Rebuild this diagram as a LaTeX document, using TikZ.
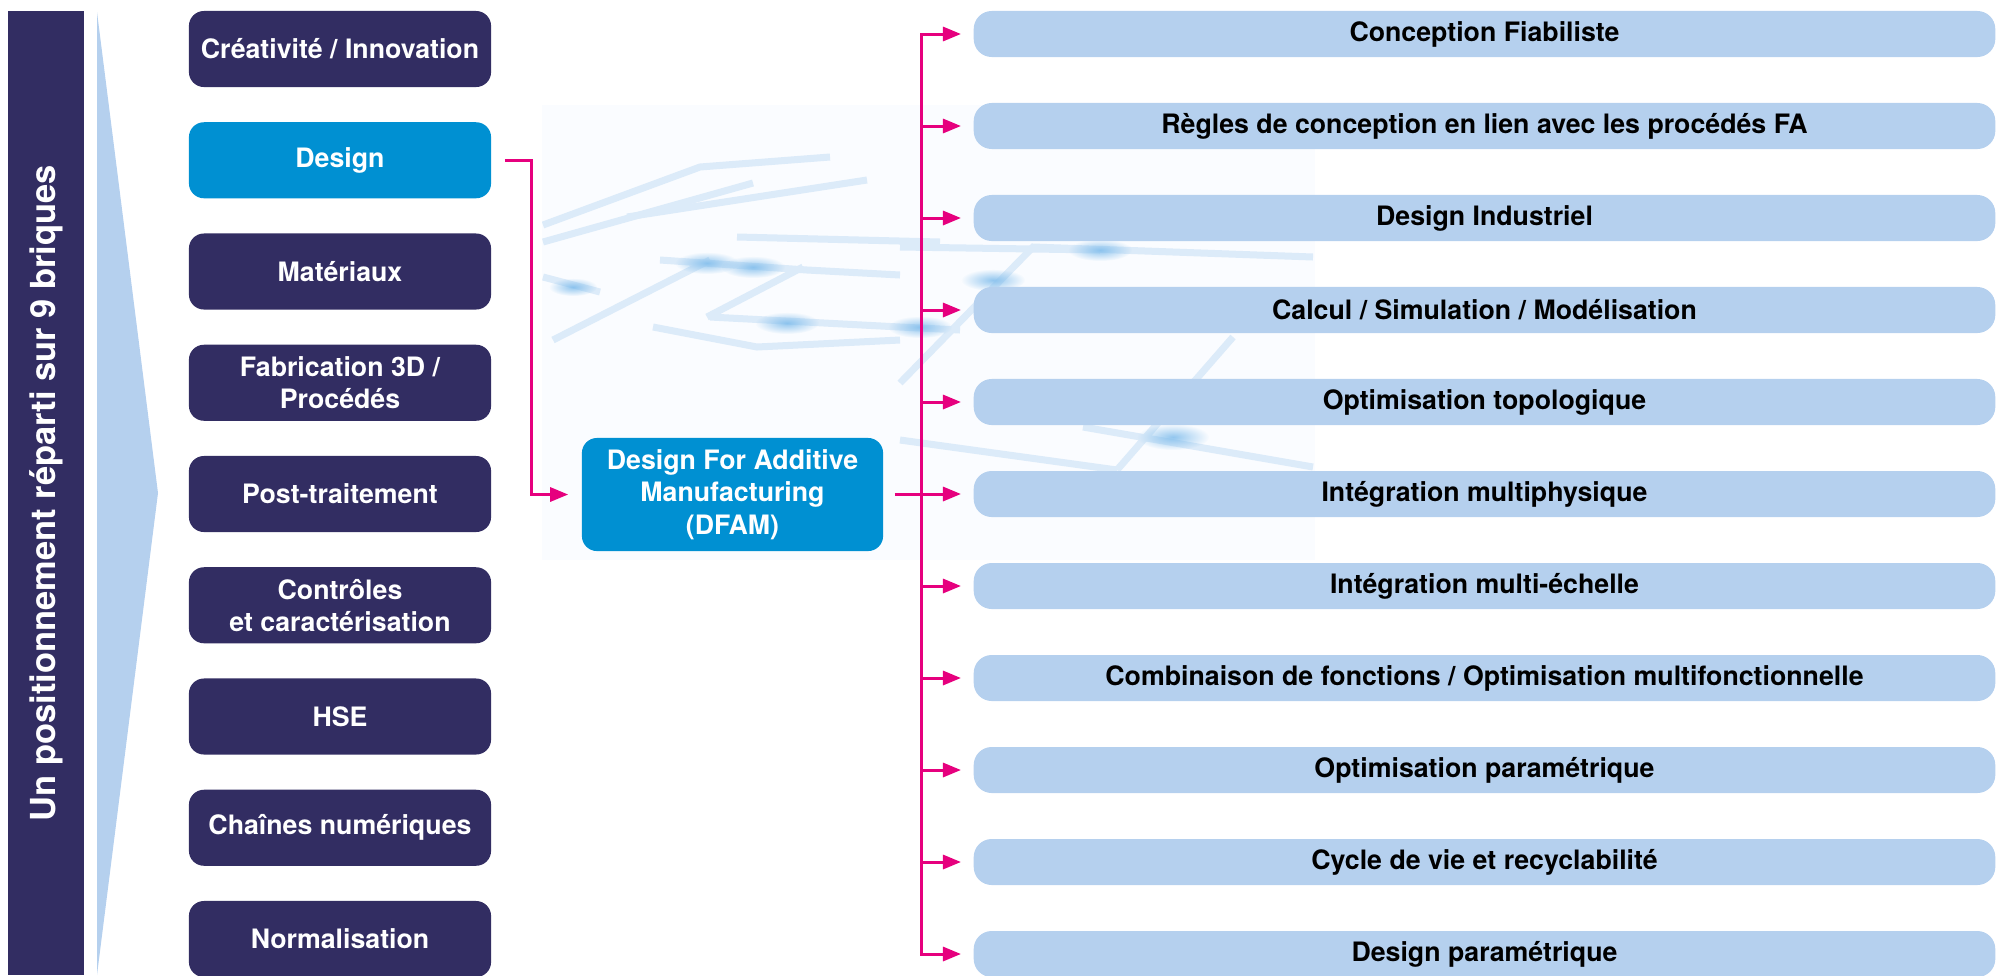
\documentclass[tikz,border=0pt]{standalone}
\usepackage{fontspec}
\setmainfont{TeX Gyre Heros}
\usepackage{tikz}
\usetikzlibrary{positioning,arrows.meta,fadings}
\definecolor{brickc}{RGB}{50,45,98}
\definecolor{dfamc}{RGB}{0,144,210}
\definecolor{topicc}{RGB}{181,208,238}
\definecolor{linkc}{RGB}{230,0,126}
\definecolor{washc}{RGB}{250,252,255}
\definecolor{gridc}{RGB}{220,235,249}
\definecolor{spotc}{RGB}{120,185,235}
\tikzfading[name=glow, inner color=transparent!0, outer color=transparent!100]
\tikzset{
  brick/.style={rectangle, rounded corners=0.15cm, fill=brickc, text=white,
                minimum width=3.02cm, minimum height=0.76cm, inner sep=0pt,
                align=center, font=\fontsize{7.6}{9.2}\selectfont\bfseries},
  brickon/.style={brick, fill=dfamc},
  dfambox/.style={brickon, minimum width=3.01cm, minimum height=1.13cm},
  topic/.style={rectangle, rounded corners=0.18cm, fill=topicc, text=black,
                minimum width=10.21cm, minimum height=0.46cm, inner sep=0pt,
                font=\fontsize{7.6}{9}\selectfont\bfseries},
  sidebar/.style={rectangle, fill=brickc, text=white, rotate=90,
                  minimum width=9.64cm, minimum height=0.76cm, inner sep=0pt,
                  font=\fontsize{9.8}{11}\selectfont\bfseries},
  link/.style={line width=0.03cm, linkc},
  feed/.style={link, -{Triangle[length=0.18cm, width=0.14cm]}},
  gridline/.style={gridc, line width=0.07cm},
  spot/.style={spotc, path fading=glow, fill opacity=0.8}
}

\begin{document}
\begin{tikzpicture}[x=0.01cm, y=-0.01cm]
\useasboundingbox (0,0) rectangle (1997,975);
% faint grid in the background
\begin{scope}
  \clip (542,105) rectangle (1315,560);
  \fill[washc] (542,105) rectangle (1315,560);
  \draw[gridline] (543,225) -- (700,167) -- (830,157);
  \draw[gridline] (627,217) -- (867,180);
  \draw[gridline] (543,242) -- (753,183);
  \draw[gridline] (737,237) -- (940,242);
  \draw[gridline] (660,260) -- (807,270) -- (900,275);
  \draw[gridline] (543,277) -- (600,292);
  \draw[gridline] (553,340) -- (710,260);
  \draw[gridline] (653,327) -- (757,347) -- (900,340);
  \draw[gridline] (710,317) -- (900,327) -- (960,330);
  \draw[gridline] (707,317) -- (803,267);
  \draw[gridline] (900,383) -- (1033,247) -- (1313,257);
  \draw[gridline] (900,247) -- (1100,250);
  \draw[gridline] (1117,470) -- (1233,337);
  \draw[gridline] (1083,427) -- (1313,467);
  \draw[gridline] (900,440) -- (1117,470);
  \fill[spot] (707,263) ellipse (32 and 11);
  \fill[spot] (753,267) ellipse (32 and 11);
  \fill[spot] (573,287) ellipse (24 and 9);
  \fill[spot] (787,323) ellipse (32 and 11);
  \fill[spot] (993,280) ellipse (32 and 11);
  \fill[spot] (1100,250) ellipse (32 and 11);
  \fill[spot] (920,327) ellipse (32 and 11);
  \fill[spot] (1173,437) ellipse (36 and 13);
\end{scope}

% side banner
\node[sidebar] (banner) at (46,493) {Un positionnement réparti sur 9 briques};
\fill[topicc] (97,12) -- (158,493) -- (97,975) -- cycle;

% the 9 bricks
\node[brick] (crea) at (340,49) {Créativité / Innovation};
\node[brickon] (design) at (340,160.25) {Design};
\node[brick] (mat) at (340,271.5) {Matériaux};
\node[brick] (fab) at (340,382.75) {Fabrication 3D /\\Procédés};
\node[brick] (post) at (340,494) {Post-traitement};
\node[brick] (ctrl) at (340,605.25) {Contrôles\\et caractérisation};
\node[brick] (hse) at (340,716.5) {HSE};
\node[brick] (chain) at (340,827.75) {Chaînes numériques};
\node[brick] (norm) at (340,939) {Normalisation};

\node[dfambox] (dfam) at (732.5,494.5) {Design For Additive\\Manufacturing\\(DFAM)};

% DFAM topics
\node[topic] (t1) at (1484.5,34) {Conception Fiabiliste};
\node[topic] (t2) at (1484.5,126) {Règles de conception en lien avec les procédés FA};
\node[topic] (t3) at (1484.5,218) {Design Industriel};
\node[topic] (t4) at (1484.5,310) {Calcul / Simulation / Modélisation};
\node[topic] (t5) at (1484.5,402) {Optimisation topologique};
\node[topic] (t6) at (1484.5,494) {Intégration multiphysique};
\node[topic] (t7) at (1484.5,586) {Intégration multi-échelle};
\node[topic] (t8) at (1484.5,678) {Combinaison de fonctions / Optimisation multifonctionnelle};
\node[topic] (t9) at (1484.5,770) {Optimisation paramétrique};
\node[topic] (t10) at (1484.5,862) {Cycle de vie et recyclabilité};
\node[topic] (t11) at (1484.5,954) {Design paramétrique};

% connectors
\coordinate (bus) at (921,0);
\draw[feed, shorten <=0.13cm, shorten >=0.13cm] (design.east) -- ++(40,0) |- (dfam.west);
\draw[link] ([xshift=0.11cm]dfam.east) -- (dfam.east -| bus);
\draw[link, line cap=rect] (t1.west -| bus) -- (t11.west -| bus);
\draw[feed, shorten >=0.12cm] (t1.west -| bus) -- (t1.west);
\draw[feed, shorten >=0.12cm] (t2.west -| bus) -- (t2.west);
\draw[feed, shorten >=0.12cm] (t3.west -| bus) -- (t3.west);
\draw[feed, shorten >=0.12cm] (t4.west -| bus) -- (t4.west);
\draw[feed, shorten >=0.12cm] (t5.west -| bus) -- (t5.west);
\draw[feed, shorten >=0.12cm] (t6.west -| bus) -- (t6.west);
\draw[feed, shorten >=0.12cm] (t7.west -| bus) -- (t7.west);
\draw[feed, shorten >=0.12cm] (t8.west -| bus) -- (t8.west);
\draw[feed, shorten >=0.12cm] (t9.west -| bus) -- (t9.west);
\draw[feed, shorten >=0.12cm] (t10.west -| bus) -- (t10.west);
\draw[feed, shorten >=0.12cm] (t11.west -| bus) -- (t11.west);
\end{tikzpicture}
\end{document}
